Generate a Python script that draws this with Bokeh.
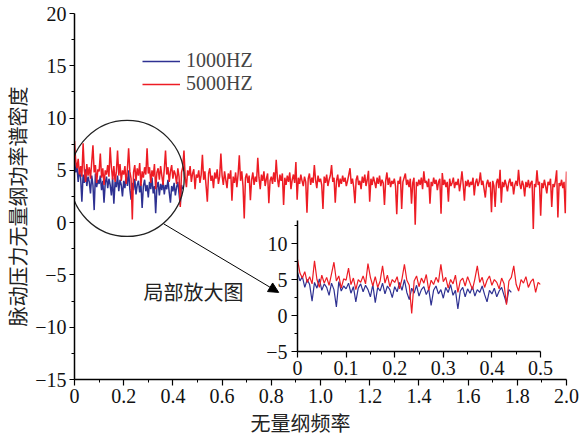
import numpy as np
from bokeh.plotting import figure
from bokeh.models import (Range1d, FixedTicker, Legend, LegendItem, Arrow,
                          NormalHead, Label)
from bokeh.layouts import column, row
from bokeh.embed import file_html
from bokeh.resources import INLINE

# ---------------- data ----------------
FREQ_STEP = 0.005  # spacing of the dimensionless frequency samples

# 5000HZ, dimensionless PSD, samples at 0.000, 0.005, ... 2.000
red_5000 = [
    7.8, 5.9, 5.2, 6.1, 4.6, 5.4, 4.4, 7.6, 5.0, 3.9, 5.6, 4.5, 5.3, 4.2, 5.8, 7.4, 4.8, 5.5, 3.8, 5.1,
    4.9, 6.6, 4.3, 5.2, 3.6, 5.0, 4.6, 5.5, 4.4, 7.2, 5.3, 4.1, 5.4, 3.9, 4.8, 6.9, 4.5, 5.6, 4.0, 5.0,
    4.6, 5.4, 3.7, 5.1, 7.1, 4.9, 4.2, 0.3, 4.8, 5.5, 4.0, 5.2, 4.5, 5.7, 3.5, 4.9, 4.3, 5.3, 4.6, 7.1,
    4.7, 5.3, 3.8, 5.0, 4.4, 5.6, 3.2, 4.8, 5.2, 4.1, 5.4, 4.5, 3.6, 5.1, 6.9, 4.6, 5.3, 3.9, 4.9, 5.5,
    4.2, 5.0, 4.6, 3.7, 5.2, 4.4, 1.5, 4.8, 5.3, 6.9, 4.3, 3.4, 5.0, 4.5, 5.4, 3.9, 4.7, 5.1, 3.2, 4.6,
    4.3, 5.0, 3.8, 4.6, 6.5, 4.1, 4.9, 3.5, 2.0, 4.7, 5.2, 4.0, 4.5, 3.3, 4.8, 4.2, 5.1, 3.7, 4.4, 6.6,
    4.5, 3.6, 4.9, 4.1, 3.3, 4.7, 4.2, 5.0, 2.1, 4.4, 3.8, 4.8, 3.4, 4.6, 6.45, 4.0, 4.9, 3.5, 0.4, 4.3,
    4.7, 3.8, 4.5, 2.15, 4.1, 4.8, 3.6, 4.4, 3.9, 6.2, 4.3, 3.2, 4.6, 4.0, 4.9, 3.5, 4.2, 4.7, 1.85, 4.0,
    4.4, 3.7, 4.8, 3.9, 6.0, 4.2, 3.4, 4.6, 4.0, 4.7, 1.7, 4.3, 3.6, 4.5, 3.9, 4.8, 3.2, 4.1, 4.6, 3.8,
    5.8, 2.2, 4.3, 3.7, 4.6, 4.0, 3.5, 4.4, 3.9, 0.95, 4.2, 4.7, 3.6, 4.3, 3.8, 5.5, 4.1, 3.3, 4.5, 3.9,
    4.2, 3.6, 1.3, 4.4, 3.8, 4.6, 3.5, 4.1, 4.5, 5.5, 3.9, 4.3, 1.9, 4.0, 4.6, 3.4, 4.2, 3.7, 4.5, 3.9,
    4.3, 3.5, 4.0, 4.6, 5.2, 3.7, 4.2, 3.4, 1.85, 4.1, 4.5, 3.6, 4.0, 3.2, 4.4, 3.8, 4.6, 3.5, 4.1, 4.95,
    2.0, 4.2, 3.6, 4.4, 3.9, 3.3, 4.3, 3.7, 4.5, 3.5, 4.1, 3.8, 1.7, 4.0, 4.8, 3.6, 4.3, 3.4, 4.0, 3.7,
    4.2, 3.5, 0.8, 4.0, 3.7, 4.4, 1.3, 3.9, 4.3, 4.7, 3.6, 4.1, 3.4, 4.2, 1.8, 3.8, 4.3, -0.2, 3.9, 3.5,
    4.1, 3.6, 4.3, 3.2, 4.9, 3.8, 4.0, 3.4, 4.2, 1.8, 3.9, 3.5, 4.3, 3.7, 4.1, 3.1, 3.9, 4.2, 0.85, 4.75,
    3.6, 4.1, 3.4, 3.9, 2.0, 4.2, 3.5, 3.8, 4.3, 3.3, 3.9, 3.6, 4.2, 3.0, 3.8, 4.9, 3.7, 2.1, 4.0, 3.5,
    4.1, 3.4, 3.9, 3.6, 4.3, 2.6, 3.8, 4.2, 3.5, 3.9, 4.8, 3.6, 4.0, 3.2, 2.4, 3.7, 4.1, 3.4, 3.9, 1.0,
    4.0, 3.5, 1.5, 3.8, 4.2, 3.3, 5.05, 1.9, 3.9, 3.4, 4.1, 3.6, 3.0, 3.8, 4.2, 3.5, 3.9, 2.7, 3.6, 4.0,
    3.5, 5.05, 3.7, 3.2, 4.0, 3.6, 2.5, 3.9, 3.4, 4.1, 3.3, 3.8, 4.0, -0.6, 3.7, 3.4, 5.0, 3.6, 3.9, 0.65,
    3.8, 3.3, 4.1, 3.5, 2.8, 3.9, 3.6, 4.2, 1.5, 3.7, 3.4, 4.0, 5.0, 0.5, 3.8, 3.5, 4.1, 3.3, 3.9, 0.9,
    4.9,
]

# 1000HZ, samples at 0.000, 0.005, ... 0.440
blue_1000 = [
    6.0, 4.8, 5.4, 3.9, 5.0, 4.3, 2.0, 4.6, 3.8, 5.1, 3.5, 4.4, 3.9, 2.8, 4.5, 3.6, 1.2, 4.7, 3.4, 4.1,
    3.7, 4.5, 3.1, 4.0, 1.9, 3.8, 4.4, 3.3, 4.2, 3.6, 2.6, 4.3, 1.8, 3.9, 3.4, 4.5, 3.0, 4.1, 3.6, 2.5,
    4.0, 3.3, 4.6, 3.5, 5.0, 3.2, 2.2, 3.8, 3.1, 4.2, 2.7, 3.6, 4.0, 2.9, 3.7, 1.4, 3.5, 4.1, 3.0, 3.6,
    2.4, 3.9, 3.2, 4.3, 2.8, 3.5, 0.9, 3.4, 3.9, 2.6, 3.7, 3.1, 4.0, 2.7, 3.6, 3.2, 4.1, 2.9, 1.9, 3.5,
    3.0, 3.8, 2.6, 3.4, 3.9, 2.8, 1.7, 3.6, 3.2,
]

series_labels = ["1000HZ", "5000HZ"]
main_x_ticks = [0, 0.2, 0.4, 0.6, 0.8, 1.0, 1.2, 1.4, 1.6, 1.8, 2.0]
main_x_labels = ["0", "0.2", "0.4", "0.6", "0.8", "1.0", "1.2", "1.4", "1.6", "1.8", "2.0"]
main_y_ticks = [-15, -10, -5, 0, 5, 10, 15, 20]
main_y_labels = ["\u221215", "\u221210", "\u22125", "0", "5", "10", "15", "20"]
inset_x_ticks = [0, 0.1, 0.2, 0.3, 0.4, 0.5]
inset_x_labels = ["0", "0.1", "0.2", "0.3", "0.4", "0.5"]
inset_y_ticks = [-5, 0, 5, 10]
inset_y_labels = ["\u22125", "0", "5", "10"]
INSET_MAX_FREQ = 0.5

freq_red = np.round(np.arange(len(red_5000)) * FREQ_STEP, 3)
freq_blue = np.round(np.arange(len(blue_1000)) * FREQ_STEP, 3)

RED = "#ED1C24"
BLUE = "#2E3192"
TICK_FONT = "'Liberation Serif', 'Times New Roman', serif"
CJK_FONT = "Noto Sans CJK SC"


def style_axes(fig, xt, xl, xminor, yt, yl, yminor):
    fig.xgrid.visible = False
    fig.ygrid.visible = False
    fig.xaxis.ticker = FixedTicker(ticks=xt, minor_ticks=xminor)
    fig.yaxis.ticker = FixedTicker(ticks=yt, minor_ticks=yminor)
    fig.xaxis.major_label_overrides = {t: l for t, l in zip(xt, xl)}
    fig.yaxis.major_label_overrides = {t: l for t, l in zip(yt, yl)}
    for ax in (fig.xaxis, fig.yaxis):
        ax.axis_line_color = "black"
        ax.axis_line_width = 1.5
        ax.major_tick_line_color = "black"
        ax.major_tick_line_width = 1.2
        ax.minor_tick_line_color = "black"
        ax.minor_tick_line_width = 1
        ax.major_tick_in = 0
        ax.major_tick_out = 6
        ax.minor_tick_in = 0
        ax.minor_tick_out = 3
        ax.major_label_text_font = TICK_FONT
        ax.major_label_text_font_size = "20px"
        ax.major_label_text_color = "#111111"
        ax.axis_label_text_font = CJK_FONT
        ax.axis_label_text_font_size = "20px"
        ax.axis_label_text_font_style = "normal"
        ax.axis_label_text_color = "#222222"


# ---------------- main figure ----------------
p = figure(width=583, height=439, x_range=Range1d(0, 2.0), y_range=Range1d(-15, 20),
           output_backend="svg", toolbar_location=None,
           min_border_left=74, min_border_right=17, min_border_top=13, min_border_bottom=58)
p.outline_line_color = None
style_axes(p, main_x_ticks, main_x_labels, [round(0.1 * k, 1) for k in range(1, 20, 2)],
           main_y_ticks, main_y_labels, [-12.5, -7.5, -2.5, 2.5, 7.5, 12.5, 17.5])
p.xaxis.axis_label = "无量纲频率\u3000\u3000"
p.yaxis.axis_label = "脉动压力无量纲功率谱密度\u3000"
p.xaxis.major_label_standoff = 3
p.xaxis.axis_label_standoff = 2
p.yaxis.major_tick_out = 5
p.yaxis.major_label_standoff = 3
p.yaxis.axis_label_standoff = 0

r_blue = p.line(freq_blue, blue_1000, line_color=BLUE, line_width=1.5)
r_red = p.line(freq_red, red_5000, line_color=RED, line_width=1.5)

# magnifier circle, arrow and caption
p.ellipse(x=[0.214], y=[4.23], width=0.464, height=11.1, fill_color=None,
          line_color="#222222", line_width=1.3)
p.add_layout(Arrow(end=NormalHead(size=10, fill_color="black", line_color="black"),
                   x_start=0.363, y_start=-0.12, x_end=0.83, y_end=-6.67,
                   line_color="black", line_width=1))
p.add_layout(Label(x=0.28, y=-6.55, text="局部放大图", text_font=CJK_FONT,
                   text_font_size="20px", text_baseline="middle", text_color="#222222"))

legend = Legend(items=[LegendItem(label=series_labels[0], renderers=[r_blue]),
                       LegendItem(label=series_labels[1], renderers=[r_red])],
                location=(68, 284), border_line_color=None, background_fill_alpha=0,
                label_text_font=TICK_FONT, label_text_font_size="20px",
                glyph_width=38, glyph_height=20, label_height=20, label_standoff=6,
                padding=0, spacing=-4, margin=0)
p.add_layout(legend)

# ---------------- inset ----------------
n_in = int(round(INSET_MAX_FREQ / FREQ_STEP)) + 1
pi = figure(width=303, height=171, x_range=Range1d(0, 0.5), y_range=Range1d(-5, 13.2),
            output_backend="svg", toolbar_location=None,
            min_border_left=40, min_border_right=20, min_border_top=5, min_border_bottom=35,
            background_fill_color=None, border_fill_color=None)
pi.outline_line_color = None
style_axes(pi, inset_x_ticks, inset_x_labels, [0.05, 0.15, 0.25, 0.35, 0.45],
           inset_y_ticks, inset_y_labels, [-2.5, 2.5, 7.5, 12.5])
pi.xaxis.major_label_standoff = 3
pi.yaxis.major_label_standoff = 4
pi.line(freq_blue, blue_1000, line_color=BLUE, line_width=1.2)
pi.line(freq_red[:n_in], red_5000[:n_in], line_color=RED, line_width=1.2)

inset_box = row(pi, margin=(-224, 0, 0, 257))
layout = column(p, inset_box)
layout.margin = 0
p.margin = 0
open("out.html", "w").write(file_html(layout, INLINE))
